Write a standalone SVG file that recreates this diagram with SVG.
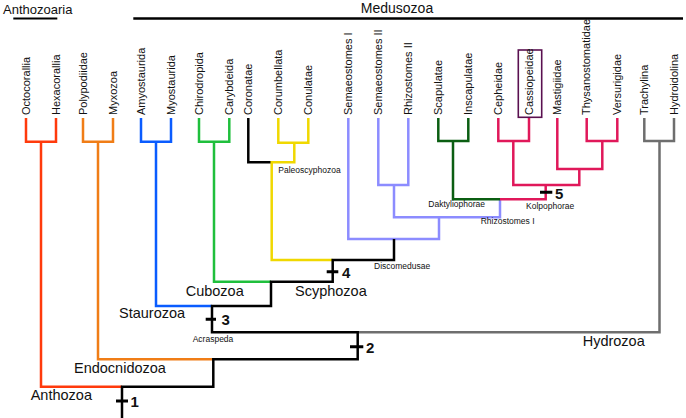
<svg xmlns="http://www.w3.org/2000/svg" width="686" height="418" viewBox="0 0 686 418">
<style>
.leaf{font-family:"Liberation Sans",Arial,sans-serif;font-size:11px;fill:#111}
.big{font-family:"Liberation Sans",Arial,sans-serif;font-size:14.5px;fill:#111}
.small{font-family:"Liberation Sans",Arial,sans-serif;font-size:8.5px;fill:#111}
.num{font-family:"Liberation Sans",Arial,sans-serif;font-size:15px;font-weight:bold;fill:#111}
.br{fill:none;stroke-width:2.5;stroke-linejoin:miter;stroke-linecap:butt}
.tick{fill:none;stroke:#000;stroke-width:3}
</style>
<rect width="686" height="418" fill="#fff"/>
<g id="connectors">
<path class="br" stroke="#ff3a0c" d="M26,118 V141.7 H56 V118 M41,141.7 V386.7 H122"/>
<path class="br" stroke="#f07d16" d="M83,118 V141.7 H113 V118 M98,141.7 V359.3 H213.3"/>
<path class="br" stroke="#0a5cff" d="M141,118 V141.7 H171 V118 M156,141.7 V306 H212"/>
<path class="br" stroke="#1fbf3c" d="M199,118 V141.7 H229.3 V118 M214,141.7 V281.7 H271"/>
<path class="br" stroke="#000" d="M248.3,118 V162.3 H271.7"/>
<path class="br" stroke="#f0d800" d="M278.3,118 V142.7 H308.3 V118 M294.3,142.7 V162.3 H271.7 V260 H332.7"/>
<path class="br" stroke="#8c8cff" d="M348.3,118 V239 H439 V217.3 M378.3,118 V185 H408.3 V118 M394,185 V217.3 H500 V199.3"/>
<path class="br" stroke="#0b5e12" d="M438.3,118 V141 H468.3 V118 M453,141 V199.3 H500"/>
<path class="br" stroke="#e0185a" d="M498.3,118 V141 H529 V118 M513.3,141 V185 H579.3 V169 M557.3,118 V169 H602.3 V141 M586.7,118 V141 H617.3 V118 M500,199.3 H545.7 V185"/>
<path class="br" stroke="#6e6e6e" stroke-width="2" d="M644.3,118 V141 H674 V118 M659.5,141 V332.3 H357.7"/>
<path class="br" stroke="#000" d="M122,418 V386.7 H213.3 V359.3 H357.7 V332.3 H212 V306 H271 V281.7 H332.7 V260 H394 V239"/>
<path class="tick" d="M116,401 H128 M350,346.7 H363.3 M205.7,319.3 H216 M326.7,271.7 H338.3 M540,192.3 H552.3"/>
<path fill="none" stroke="#000" stroke-width="2" d="M13.3,18.5 H57.3"/>
<path fill="none" stroke="#000" stroke-width="2.5" d="M133.3,18.5 H683"/>
</g>
<g id="groups">
<text class="big" x="3" y="13.5" style="font-size:13px">Anthozoaria</text>
<text class="big" x="397" y="12.5" text-anchor="middle" style="font-size:14px">Medusozoa</text>
</g>
<g id="leaves">
<g id="n-octocorallia"><text class="leaf" transform="translate(29.5,115) rotate(-90)">Octocorallia</text></g>
<g id="n-hexacorallia"><text class="leaf" transform="translate(59.5,115) rotate(-90)">Hexacorallia</text></g>
<g id="n-polypodiidae"><text class="leaf" transform="translate(86.5,115) rotate(-90)">Polypodiidae</text></g>
<g id="n-myxozoa"><text class="leaf" transform="translate(116.5,115) rotate(-90)">Myxozoa</text></g>
<g id="n-amyostaurida"><text class="leaf" transform="translate(144.5,115) rotate(-90)">Amyostaurida</text></g>
<g id="n-myostaurida"><text class="leaf" transform="translate(174.5,115) rotate(-90)">Myostaurida</text></g>
<g id="n-chirodropida"><text class="leaf" transform="translate(202.5,115) rotate(-90)">Chirodropida</text></g>
<g id="n-carybdeida"><text class="leaf" transform="translate(232.8,115) rotate(-90)">Carybdeida</text></g>
<g id="n-coronatae"><text class="leaf" transform="translate(251.8,115) rotate(-90)">Coronatae</text></g>
<g id="n-corumbellata"><text class="leaf" transform="translate(281.8,115) rotate(-90)">Corumbellata</text></g>
<g id="n-conulatae"><text class="leaf" transform="translate(311.8,115) rotate(-90)">Conulatae</text></g>
<g id="n-semaeostomes1"><text class="leaf" transform="translate(351.8,115) rotate(-90)">Semaeostomes I</text></g>
<g id="n-semaeostomes2"><text class="leaf" transform="translate(381.8,115) rotate(-90)">Semaeostomes II</text></g>
<g id="n-rhizostomes2"><text class="leaf" transform="translate(411.8,115) rotate(-90)">Rhizostomes II</text></g>
<g id="n-scapulatae"><text class="leaf" transform="translate(441.8,115) rotate(-90)">Scapulatae</text></g>
<g id="n-inscapulatae"><text class="leaf" transform="translate(471.8,115) rotate(-90)">Inscapulatae</text></g>
<g id="n-cepheidae"><text class="leaf" transform="translate(501.8,115) rotate(-90)">Cepheidae</text></g>
<g id="n-cassiopeidae"><rect x="518.3" y="50" width="23.4" height="67.3" fill="none" stroke="#5a1050" stroke-width="1.6"/><text class="leaf" transform="translate(532.5,115) rotate(-90)">Cassiopeidae</text></g>
<g id="n-mastigiidae"><text class="leaf" transform="translate(560.8,115) rotate(-90)">Mastigiidae</text></g>
<g id="n-thysanostomatidae"><text class="leaf" transform="translate(590.2,115) rotate(-90)">Thysanostomatidae</text></g>
<g id="n-versurigidae"><text class="leaf" transform="translate(620.8,115) rotate(-90)">Versurigidae</text></g>
<g id="n-trachylina"><text class="leaf" transform="translate(647.8,115) rotate(-90)">Trachylina</text></g>
<g id="n-hydroidolina"><text class="leaf" transform="translate(677.5,115) rotate(-90)">Hydroidolina</text></g>
</g>
<g id="clades">
<g id="c-anthozoa"><text class="big" x="30.7" y="400">Anthozoa</text></g>
<g id="c-endocnidozoa"><text class="big" x="74" y="372.7">Endocnidozoa</text></g>
<g id="c-staurozoa"><text class="big" x="119" y="318.3">Staurozoa</text></g>
<g id="c-cubozoa"><text class="big" x="185.7" y="295.7">Cubozoa</text></g>
<g id="c-scyphozoa"><text class="big" x="295" y="295.7">Scyphozoa</text></g>
<g id="c-hydrozoa"><text class="big" x="582.7" y="346">Hydrozoa</text></g>
<g id="c-paleoscyphozoa"><text class="small" x="278.3" y="173.3">Paleoscyphozoa</text></g>
<g id="c-daktyliophorae"><text class="small" x="428.3" y="207.3">Daktyliophorae</text></g>
<g id="c-kolpophorae"><text class="small" x="526" y="208.7">Kolpophorae</text></g>
<g id="c-rhizostomes1"><text class="small" x="480.7" y="224.3">Rhizostomes I</text></g>
<g id="c-discomedusae"><text class="small" x="374" y="269.3">Discomedusae</text></g>
<g id="c-acraspeda"><text class="small" x="192.7" y="342.3">Acraspeda</text></g>
</g>
<g id="events">
<text class="num" x="130.5" y="406.5">1</text>
<text class="num" x="366" y="352.5">2</text>
<text class="num" x="221.5" y="325">3</text>
<text class="num" x="342" y="277.5">4</text>
<text class="num" x="555" y="198.5">5</text>
</g>
</svg>
